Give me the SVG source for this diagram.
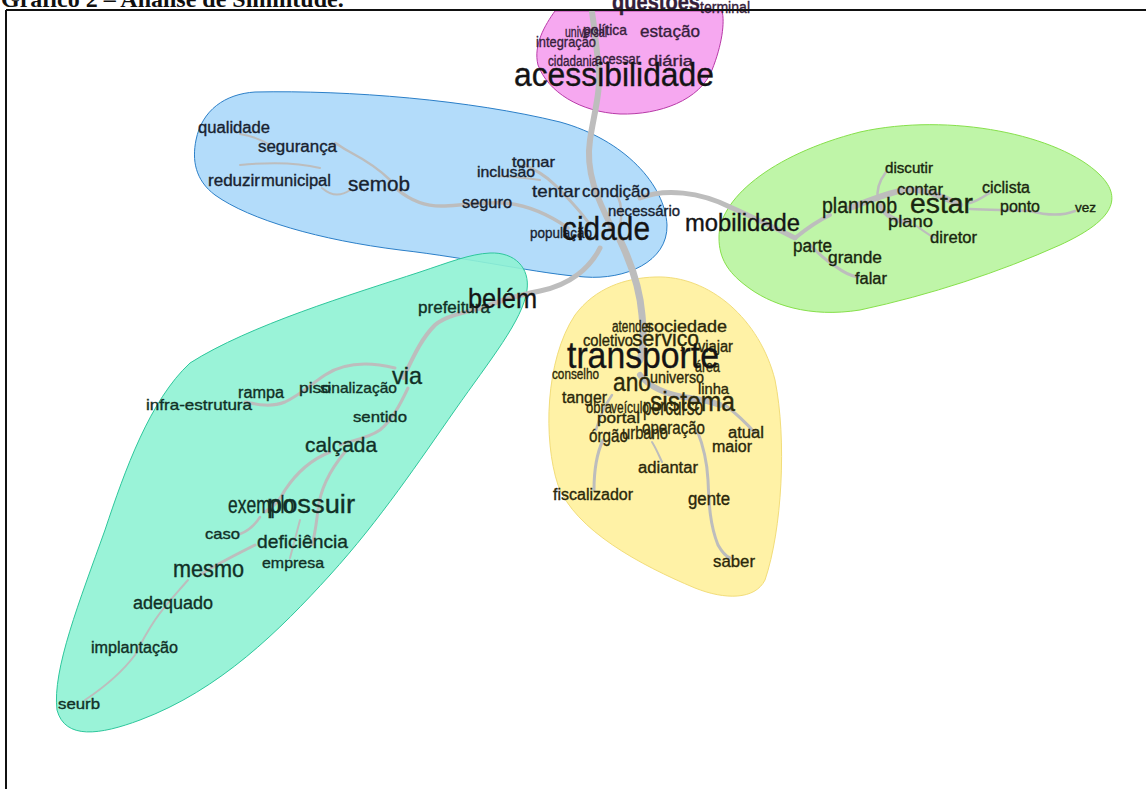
<svg xmlns="http://www.w3.org/2000/svg" width="1146" height="789" viewBox="0 0 1146 789">
<style>
.t{font-family:"Liberation Sans Narrow","Liberation Sans",Arial,sans-serif}
.t text{stroke-width:0.35}
.e{fill:none;stroke:#bdbdbd;stroke-linecap:round;stroke-linejoin:round}
.p text{fill:#35203a;stroke:#35203a}
.b text{fill:#18222f;stroke:#18222f}
.g text{fill:#19260f;stroke:#19260f}
.c text{fill:#113026;stroke:#113026}
.y text{fill:#2b280a;stroke:#2b280a}
.t text.big{fill:#141414;stroke:#141414}
</style>
<rect x="0" y="0" width="1146" height="789" fill="#ffffff"/>
<text x="1" y="7" font-family="Liberation Serif,serif" font-weight="bold" font-size="24" fill="#111">Gráfico 2 – Análise de Similitude.</text>

<g id="regions">
<path id="r-pink" d="M 555,11 C 545,25 533,45 538,65 C 548,92 580,112 620,114 C 660,115 700,100 712,70 C 722,45 725,22 722,11 Z" fill="#f6a8f0" stroke="#b83aa8" stroke-width="1"/>
<path id="r-blue" d="M 255,92 C 350,90 470,100 560,122 C 625,140 665,185 667,225 C 668,262 625,280 585,277 C 540,274 470,258 400,250 C 320,240 250,220 215,195 C 195,180 192,160 196,140 C 202,110 225,94 255,92 Z" fill="#b3dcfa" stroke="#2b7fc8" stroke-width="1"/>
<path id="r-green" d="M 719,238 C 718,200 770,155 860,132 C 950,112 1060,135 1100,175 C 1125,200 1110,222 1060,245 C 1000,272 930,295 860,310 C 810,318 770,305 745,285 C 728,272 719,258 719,238 Z" fill="#bff5a8" stroke="#86e04a" stroke-width="1"/>
<path id="r-cyan" d="M 490,253 C 515,252 530,268 527,290 C 523,320 490,360 455,410 C 420,460 380,520 330,575 C 280,630 220,690 140,720 C 100,735 65,740 57,710 C 52,670 80,600 105,530 C 125,470 150,400 190,363 C 250,325 350,295 420,272 C 450,262 470,254 490,253 Z" fill="#8ff2d4" fill-opacity="0.9" stroke="#2ec79c" stroke-width="1"/>
<path id="r-yellow" d="M 655,277 C 710,275 760,320 775,380 C 787,440 782,530 765,580 C 755,600 725,600 695,588 C 640,565 575,530 558,485 C 543,440 545,360 575,315 C 595,288 625,278 655,277 Z" fill="#fff2a6" stroke="#f2dd7a" stroke-width="1"/>
</g>

<g id="connectors">
<path class="e" stroke-width="6" d="M 612,228 C 598,200 585,172 590,140 C 594,112 602,90 598,62 C 596,42 594,25 592,12"/>
<path class="e" stroke-width="7" d="M 620,240 C 632,265 640,290 642,315 C 644,335 643,350 640,360"/>
<path class="e" stroke-width="5" d="M 640,198 C 665,188 700,192 730,207 C 755,218 775,228 795,238"/>
<path class="e" stroke-width="5" d="M 600,248 C 590,268 570,285 540,291 C 515,296 495,302 483,308"/>
<path class="e" stroke-width="4" d="M 483,308 C 465,312 445,316 435,325 C 420,340 412,360 403,378"/>
<path class="e" stroke-width="3" d="M 395,368 C 370,362 345,362 325,375 C 310,385 300,395 285,402 C 270,408 255,404 245,402"/>
<path class="e" stroke-width="3" d="M 408,388 C 400,405 392,420 380,430 C 365,440 350,440 340,445"/>
<path class="e" stroke-width="3" d="M 330,452 C 310,460 295,475 285,490 C 280,500 275,505 265,512"/>
<path class="e" stroke-width="3" d="M 345,452 C 330,470 320,490 318,510 C 316,525 315,535 312,545"/>
<path class="e" stroke-width="2.5" d="M 260,517 C 255,525 250,530 240,534"/>
<path class="e" stroke-width="3" d="M 255,545 C 235,555 215,565 200,575"/>
<path class="e" stroke-width="2" d="M 188,580 C 175,595 165,605 155,620 C 145,635 140,645 135,655 C 120,675 100,690 85,700"/>
<path class="e" stroke-width="2" d="M 300,520 C 296,535 292,550 290,558"/>
<path class="e" stroke-width="3.5" d="M 568,228 C 545,212 525,205 505,203 C 485,202 465,205 445,206 C 425,207 410,200 398,190"/>
<path class="e" stroke-width="2.5" d="M 390,180 C 380,170 365,160 350,152 C 342,148 338,144 335,143"/>
<path class="e" stroke-width="2" d="M 270,145 C 262,140 252,136 240,134"/>
<path class="e" stroke-width="2" d="M 350,190 C 340,197 330,195 322,188"/>
<path class="e" stroke-width="2" d="M 240,165 C 270,162 300,163 320,168"/>
<path class="e" stroke-width="3" d="M 590,225 C 580,210 565,195 555,185 C 545,175 535,170 525,165"/>
<path class="e" stroke-width="2" d="M 540,180 C 525,178 510,176 495,176"/>
<path class="e" stroke-width="2.5" d="M 620,228 C 622,215 622,205 618,197"/>
<path class="e" stroke-width="4" d="M 795,238 C 805,230 815,222 830,215"/>
<path class="e" stroke-width="6" d="M 850,208 C 870,200 890,192 905,190 C 925,188 945,198 960,205"/>
<path class="e" stroke-width="5" d="M 880,205 C 885,215 895,222 910,222"/>
<path class="e" stroke-width="2.5" d="M 970,203 C 980,200 985,195 990,193"/>
<path class="e" stroke-width="2.5" d="M 970,209 C 990,210 1010,210 1030,211 C 1045,215 1060,217 1075,211"/>
<path class="e" stroke-width="2.5" d="M 878,200 C 876,190 880,180 886,172"/>
<path class="e" stroke-width="3" d="M 810,245 C 820,255 828,262 835,266 C 843,272 850,276 858,277"/>
<path class="e" stroke-width="2" d="M 915,225 C 925,232 930,236 935,238"/>
<path class="e" stroke-width="6" d="M 640,375 C 650,388 668,395 690,398 C 705,400 715,403 720,405"/>
<path class="e" stroke-width="3" d="M 725,405 C 738,415 748,425 755,433"/>
<path class="e" stroke-width="3" d="M 603,440 C 596,455 594,470 594,490"/>
<path class="e" stroke-width="3" d="M 697,430 C 703,445 707,460 708,480 C 709,505 710,525 718,545 C 722,552 725,556 730,558"/>
<path class="e" stroke-width="2" d="M 652,442 C 657,450 660,458 662,462"/>
<path class="e" stroke-width="2.5" d="M 612,395 C 605,405 600,415 596,430"/>
</g>

<g class="t p" id="cluster-acessibilidade">
<g id="n-questoes"><text x="612" y="10" font-size="24" font-weight="bold" textLength="88" lengthAdjust="spacingAndGlyphs">questões</text></g>
<g id="n-terminal"><text x="700" y="13" font-size="16" textLength="50" lengthAdjust="spacingAndGlyphs">terminal</text></g>
<g id="n-universal"><text x="565" y="37" font-size="15" textLength="42" lengthAdjust="spacingAndGlyphs">universal</text></g>
<g id="n-politica"><text x="583" y="35" font-size="15" textLength="44" lengthAdjust="spacingAndGlyphs">política</text></g>
<g id="n-estacao"><text x="640" y="37" font-size="17" textLength="60" lengthAdjust="spacingAndGlyphs">estação</text></g>
<g id="n-integracao"><text x="536" y="47" font-size="15" textLength="60" lengthAdjust="spacingAndGlyphs">integração</text></g>
<g id="n-cidadania"><text x="548" y="66" font-size="14" textLength="50" lengthAdjust="spacingAndGlyphs">cidadania</text></g>
<g id="n-acessar"><text x="595" y="64" font-size="14" textLength="45" lengthAdjust="spacingAndGlyphs">acessar</text></g>
<g id="n-diaria"><text x="648" y="66" font-size="14" textLength="45" lengthAdjust="spacingAndGlyphs">diária</text></g>
<g id="n-acessibilidade"><text class="big" x="514" y="86" font-size="34" textLength="200" lengthAdjust="spacingAndGlyphs">acessibilidade</text></g>
</g>

<g class="t b" id="cluster-cidade">
<g id="n-qualidade"><text x="198" y="133" font-size="16" textLength="72" lengthAdjust="spacingAndGlyphs">qualidade</text></g>
<g id="n-seguranca"><text x="258" y="152" font-size="16" textLength="79" lengthAdjust="spacingAndGlyphs">segurança</text></g>
<g id="n-reduzir"><text x="208" y="186" font-size="16" textLength="52" lengthAdjust="spacingAndGlyphs">reduzir</text></g>
<g id="n-municipal"><text x="261" y="186" font-size="16" textLength="70" lengthAdjust="spacingAndGlyphs">municipal</text></g>
<g id="n-semob"><text x="348" y="191" font-size="21" textLength="62" lengthAdjust="spacingAndGlyphs">semob</text></g>
<g id="n-inclusao"><text x="477" y="177" font-size="15" textLength="58" lengthAdjust="spacingAndGlyphs">inclusão</text></g>
<g id="n-tornar"><text x="512" y="167" font-size="15" textLength="43" lengthAdjust="spacingAndGlyphs">tornar</text></g>
<g id="n-seguro"><text x="462" y="208" font-size="16" textLength="50" lengthAdjust="spacingAndGlyphs">seguro</text></g>
<g id="n-tentar"><text x="532" y="197" font-size="17" textLength="48" lengthAdjust="spacingAndGlyphs">tentar</text></g>
<g id="n-condicao"><text x="582" y="197" font-size="17" textLength="68" lengthAdjust="spacingAndGlyphs">condição</text></g>
<g id="n-necessario"><text x="608" y="216" font-size="14" textLength="72" lengthAdjust="spacingAndGlyphs">necessário</text></g>
<g id="n-populacao"><text x="530" y="238" font-size="15" textLength="62" lengthAdjust="spacingAndGlyphs">população</text></g>
<g id="n-cidade"><text class="big" x="562" y="240" font-size="34" textLength="88" lengthAdjust="spacingAndGlyphs">cidade</text></g>
</g>

<g class="t g" id="cluster-mobilidade">
<g id="n-mobilidade"><text class="big" x="685" y="231" font-size="23" textLength="115" lengthAdjust="spacingAndGlyphs">mobilidade</text></g>
<g id="n-planmob"><text x="822" y="213" font-size="22" textLength="75" lengthAdjust="spacingAndGlyphs">planmob</text></g>
<g id="n-estar"><text x="910" y="213" font-size="27" textLength="63" lengthAdjust="spacingAndGlyphs">estar</text></g>
<g id="n-discutir"><text x="885" y="173" font-size="14" textLength="48" lengthAdjust="spacingAndGlyphs">discutir</text></g>
<g id="n-contar"><text x="897" y="195" font-size="16" textLength="46" lengthAdjust="spacingAndGlyphs">contar</text></g>
<g id="n-plano"><text x="888" y="227" font-size="17" textLength="45" lengthAdjust="spacingAndGlyphs">plano</text></g>
<g id="n-diretor"><text x="930" y="243" font-size="16" textLength="47" lengthAdjust="spacingAndGlyphs">diretor</text></g>
<g id="n-ciclista"><text x="982" y="193" font-size="16" textLength="48" lengthAdjust="spacingAndGlyphs">ciclista</text></g>
<g id="n-ponto"><text x="1000" y="212" font-size="16" textLength="40" lengthAdjust="spacingAndGlyphs">ponto</text></g>
<g id="n-vez"><text x="1075" y="212" font-size="13" textLength="21" lengthAdjust="spacingAndGlyphs">vez</text></g>
<g id="n-parte"><text x="793" y="252" font-size="18" textLength="39" lengthAdjust="spacingAndGlyphs">parte</text></g>
<g id="n-grande"><text x="828" y="263" font-size="16" textLength="54" lengthAdjust="spacingAndGlyphs">grande</text></g>
<g id="n-falar"><text x="855" y="284" font-size="16" textLength="32" lengthAdjust="spacingAndGlyphs">falar</text></g>
</g>

<g class="t c" id="cluster-belem">
<g id="n-prefeitura"><text x="418" y="313" font-size="16" textLength="72" lengthAdjust="spacingAndGlyphs">prefeitura</text></g>
<g id="n-belem"><text class="big" x="468" y="308" font-size="27" textLength="69" lengthAdjust="spacingAndGlyphs">belém</text></g>
<g id="n-via"><text x="392" y="384" font-size="24" textLength="30" lengthAdjust="spacingAndGlyphs">via</text></g>
<g id="n-piso"><text x="299" y="393" font-size="15" textLength="32" lengthAdjust="spacingAndGlyphs">piso</text></g>
<g id="n-sinalizacao"><text x="320" y="393" font-size="15" textLength="77" lengthAdjust="spacingAndGlyphs">sinalização</text></g>
<g id="n-rampa"><text x="238" y="398" font-size="16" textLength="46" lengthAdjust="spacingAndGlyphs">rampa</text></g>
<g id="n-infra"><text x="146" y="410" font-size="15" textLength="106" lengthAdjust="spacingAndGlyphs">infra-estrutura</text></g>
<g id="n-sentido"><text x="353" y="422" font-size="15" textLength="54" lengthAdjust="spacingAndGlyphs">sentido</text></g>
<g id="n-calcada"><text x="305" y="452" font-size="21" textLength="72" lengthAdjust="spacingAndGlyphs">calçada</text></g>
<g id="n-exemplo"><text x="228" y="513" font-size="23" textLength="66" lengthAdjust="spacingAndGlyphs">exemplo</text></g>
<g id="n-possuir"><text x="267" y="513" font-size="26" textLength="88" lengthAdjust="spacingAndGlyphs">possuir</text></g>
<g id="n-caso"><text x="205" y="539" font-size="15" textLength="35" lengthAdjust="spacingAndGlyphs">caso</text></g>
<g id="n-deficiencia"><text x="257" y="548" font-size="19" textLength="91" lengthAdjust="spacingAndGlyphs">deficiência</text></g>
<g id="n-empresa"><text x="262" y="568" font-size="15" textLength="62" lengthAdjust="spacingAndGlyphs">empresa</text></g>
<g id="n-mesmo"><text x="173" y="577" font-size="23" textLength="71" lengthAdjust="spacingAndGlyphs">mesmo</text></g>
<g id="n-adequado"><text x="133" y="609" font-size="18" textLength="80" lengthAdjust="spacingAndGlyphs">adequado</text></g>
<g id="n-implantacao"><text x="91" y="653" font-size="16" textLength="87" lengthAdjust="spacingAndGlyphs">implantação</text></g>
<g id="n-seurb"><text x="58" y="709" font-size="15" textLength="42" lengthAdjust="spacingAndGlyphs">seurb</text></g>
</g>

<g class="t y" id="cluster-transporte">
<g id="n-atender"><text x="612" y="332" font-size="16" textLength="40" lengthAdjust="spacingAndGlyphs">atender</text></g>
<g id="n-sociedade"><text x="645" y="332" font-size="16" textLength="82" lengthAdjust="spacingAndGlyphs">sociedade</text></g>
<g id="n-coletivo"><text x="583" y="346" font-size="16" textLength="50" lengthAdjust="spacingAndGlyphs">coletivo</text></g>
<g id="n-servico"><text x="632" y="346" font-size="22" textLength="67" lengthAdjust="spacingAndGlyphs">serviço</text></g>
<g id="n-viajar"><text x="698" y="352" font-size="16" textLength="35" lengthAdjust="spacingAndGlyphs">viajar</text></g>
<g id="n-area"><text x="695" y="372" font-size="16" textLength="25" lengthAdjust="spacingAndGlyphs">área</text></g>
<g id="n-transporte"><text class="big" x="567" y="368" font-size="36" textLength="152" lengthAdjust="spacingAndGlyphs">transporte</text></g>
<g id="n-conselho"><text x="552" y="379" font-size="15" textLength="47" lengthAdjust="spacingAndGlyphs">conselho</text></g>
<g id="n-universo"><text x="650" y="383" font-size="16" textLength="54" lengthAdjust="spacingAndGlyphs">universo</text></g>
<g id="n-ano"><text x="613" y="391" font-size="26" textLength="38" lengthAdjust="spacingAndGlyphs">ano</text></g>
<g id="n-linha"><text x="698" y="394" font-size="15" textLength="31" lengthAdjust="spacingAndGlyphs">linha</text></g>
<g id="n-tanger"><text x="562" y="403" font-size="16" textLength="45" lengthAdjust="spacingAndGlyphs">tanger</text></g>
<g id="n-obra"><text x="586" y="413" font-size="16" textLength="26" lengthAdjust="spacingAndGlyphs">obra</text></g>
<g id="n-veiculo"><text x="611" y="413" font-size="16" textLength="38" lengthAdjust="spacingAndGlyphs">veículo</text></g>
<g id="n-percurso"><text x="643" y="415" font-size="23" textLength="60" lengthAdjust="spacingAndGlyphs">percurso</text></g>
<g id="n-sistema"><text x="650" y="411" font-size="28" textLength="85" lengthAdjust="spacingAndGlyphs">sistema</text></g>
<g id="n-portal"><text x="597" y="423" font-size="15" textLength="43" lengthAdjust="spacingAndGlyphs">portal</text></g>
<g id="n-operacao"><text x="642" y="434" font-size="19" textLength="63" lengthAdjust="spacingAndGlyphs">operação</text></g>
<g id="n-orgao"><text x="589" y="442" font-size="18" textLength="39" lengthAdjust="spacingAndGlyphs">órgão</text></g>
<g id="n-urbano"><text x="622" y="439" font-size="18" textLength="46" lengthAdjust="spacingAndGlyphs">urbano</text></g>
<g id="n-atual"><text x="728" y="438" font-size="16" textLength="36" lengthAdjust="spacingAndGlyphs">atual</text></g>
<g id="n-maior"><text x="712" y="452" font-size="16" textLength="40" lengthAdjust="spacingAndGlyphs">maior</text></g>
<g id="n-adiantar"><text x="638" y="473" font-size="16" textLength="60" lengthAdjust="spacingAndGlyphs">adiantar</text></g>
<g id="n-fiscalizador"><text x="553" y="500" font-size="16" textLength="80" lengthAdjust="spacingAndGlyphs">fiscalizador</text></g>
<g id="n-gente"><text x="688" y="505" font-size="18" textLength="42" lengthAdjust="spacingAndGlyphs">gente</text></g>
<g id="n-saber"><text x="713" y="567" font-size="17" textLength="42" lengthAdjust="spacingAndGlyphs">saber</text></g>
</g>

<g id="frame" stroke="#111" stroke-width="2" fill="none">
<line x1="6" y1="10" x2="1146" y2="10"/>
<line x1="6" y1="10" x2="6" y2="789"/>
</g>
</svg>
